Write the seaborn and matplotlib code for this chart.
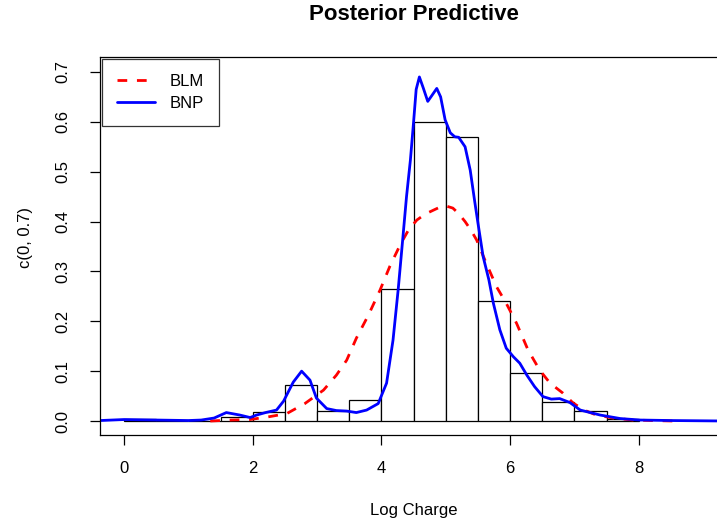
import matplotlib
matplotlib.use("Agg")
import matplotlib.pyplot as plt
import seaborn as sns

# histogram of observed log charges (bin width 0.5)
bin_edges = [0.0, 0.5, 1.0, 1.5, 2.0, 2.5, 3.0, 3.5, 4.0, 4.5, 5.0, 5.5, 6.0, 6.5, 7.0, 7.5, 8.0]
bin_heights = [0.004, 0.0, 0.0, 0.008, 0.018, 0.073, 0.021, 0.043, 0.265, 0.600,
               0.569, 0.240, 0.096, 0.039, 0.020, 0.005]

# BLM posterior predictive density
blm_x = [1.34, 1.65, 1.96, 2.27, 2.53, 2.81, 3.10, 3.30, 3.46, 3.61, 3.80, 3.98, 4.13,
         4.29, 4.42, 4.55, 4.68, 4.81, 4.91, 5.01, 5.11, 5.20, 5.30, 5.39, 5.48, 5.63,
         5.79, 5.94, 6.10, 6.28, 6.46, 6.62, 6.82, 6.98, 7.15, 7.34, 7.60, 7.91, 8.20, 8.55]
blm_y = [0.000, 0.002, 0.003, 0.009, 0.015, 0.035, 0.062, 0.092, 0.122, 0.166, 0.213,
         0.263, 0.310, 0.353, 0.383, 0.403, 0.415, 0.423, 0.429, 0.431, 0.427, 0.416,
         0.400, 0.383, 0.363, 0.316, 0.269, 0.236, 0.196, 0.142, 0.102, 0.076, 0.056,
         0.036, 0.022, 0.012, 0.006, 0.002, 0.001, 0.000]

# BNP posterior predictive density
bnp_x = [-0.37, 0.0, 0.5, 1.0, 1.2, 1.4, 1.59, 1.8, 1.96, 2.06, 2.2, 2.37, 2.48, 2.63,
         2.76, 2.89, 2.99, 3.15, 3.30, 3.46, 3.61, 3.77, 3.95, 4.08, 4.18, 4.26, 4.33,
         4.39, 4.45, 4.50, 4.54, 4.59, 4.65, 4.72, 4.78, 4.86, 4.92, 4.99, 5.07, 5.14,
         5.20, 5.30, 5.38, 5.45, 5.50, 5.58, 5.67, 5.74, 5.84, 5.94, 6.05, 6.15, 6.26,
         6.38, 6.51, 6.64, 6.77, 6.93, 7.09, 7.40, 7.71, 8.02, 8.50, 9.40]
bnp_y = [0.001, 0.003, 0.002, 0.001, 0.002, 0.006, 0.017, 0.012, 0.007, 0.012, 0.017,
         0.022, 0.040, 0.078, 0.100, 0.082, 0.046, 0.025, 0.021, 0.020, 0.017, 0.022,
         0.035, 0.076, 0.162, 0.263, 0.363, 0.450, 0.523, 0.600, 0.665, 0.690, 0.668,
         0.641, 0.652, 0.667, 0.650, 0.604, 0.578, 0.570, 0.569, 0.550, 0.503, 0.440,
         0.397, 0.330, 0.283, 0.236, 0.183, 0.146, 0.129, 0.116, 0.092, 0.069, 0.049,
         0.044, 0.045, 0.037, 0.022, 0.012, 0.005, 0.002, 0.001, 0.000]

x_ticks = [0, 2, 4, 6, 8]
y_ticks = [0.0, 0.1, 0.2, 0.3, 0.4, 0.5, 0.6, 0.7]

sns.set_style("white")
plt.rcParams["font.family"] = ["Liberation Sans", "DejaVu Sans"]
plt.rcParams["text.color"] = "black"
plt.rcParams["axes.labelcolor"] = "black"
plt.rcParams["xtick.color"] = "black"
plt.rcParams["ytick.color"] = "black"

W, H = 717, 529
fig = plt.figure(figsize=(W / 100, H / 100), dpi=100)
ax = fig.add_axes([100 / W, 1 - 435 / H, 627 / W, 378 / H])

mids = [(a + b) / 2 for a, b in zip(bin_edges[:-1], bin_edges[1:])]
sns.histplot(x=mids, weights=bin_heights, bins=bin_edges, ax=ax,
             color="white", edgecolor="black", linewidth=0.9, alpha=1)

sns.lineplot(x=blm_x, y=blm_y, ax=ax, color="red", linewidth=2,
             linestyle=(0, (3.5, 3.5)), label="BLM")
sns.lineplot(x=bnp_x, y=bnp_y, ax=ax, color="blue", linewidth=2, label="BNP",
             solid_joinstyle="round")

ax.set_xlim(-0.373, 9.37)
ax.set_ylim(-0.028, 0.730)
ax.set_xticks(x_ticks)
ax.set_xticklabels([str(t) for t in x_ticks])
ax.set_yticks(y_ticks)
ax.set_yticklabels([f"{t:.1f}" for t in y_ticks], rotation=90, va="center")
ax.tick_params(axis="both", direction="out", length=7.5, width=0.9,
               labelsize=12, colors="black", left=True, bottom=True)
ax.tick_params(axis="x", pad=11)
ax.tick_params(axis="y", pad=14)
ax.set_xlabel("")
ax.set_ylabel("")
for side in ["left", "bottom", "top"]:
    ax.spines[side].set_color("black")
    ax.spines[side].set_linewidth(0.9)
ax.spines["right"].set_visible(False)

leg = ax.legend(loc="upper left", fontsize=12, frameon=True, fancybox=False,
                borderaxespad=0.1, borderpad=0.9, handlelength=2.3,
                handletextpad=0.9, labelspacing=0.45)
leg.get_frame().set_edgecolor("black")
leg.get_frame().set_linewidth(0.9)
for t in leg.get_texts():
    t.set_color("black")

fig.text(413.7 / W, 1 - 14 / H, "Posterior Predictive", ha="center", va="center",
         fontsize=16, fontweight="bold")
fig.text(413.7 / W, 1 - 511 / H, "Log Charge", ha="center", va="center", fontsize=12)
fig.text(26 / W, 1 - 237 / H, "c(0, 0.7)", ha="center", va="center",
         rotation=90, fontsize=12)

fig.savefig("out.png", dpi=100, facecolor="white")
